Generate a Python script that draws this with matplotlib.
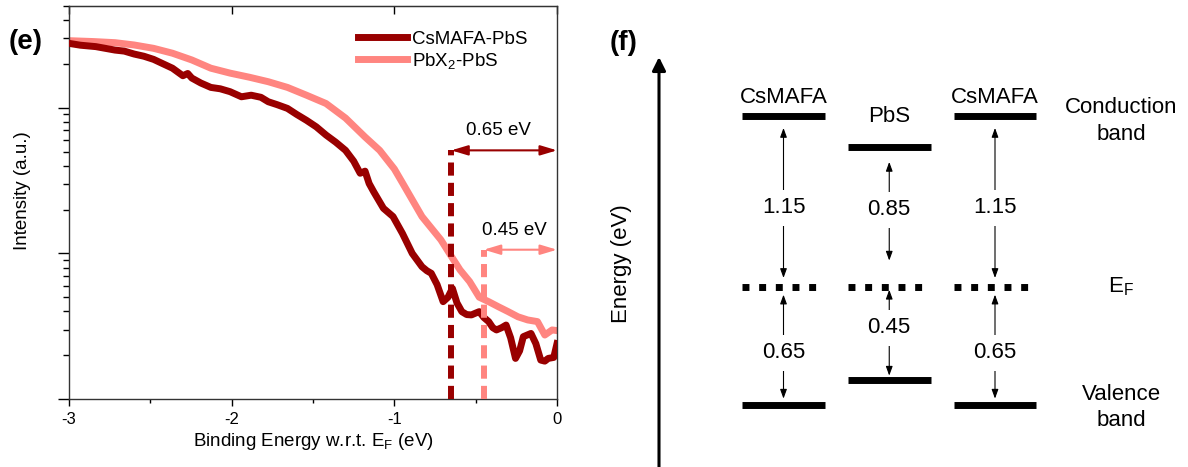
import matplotlib.pyplot as plt
import numpy as np

plt.rcParams['font.family'] = ['Liberation Sans', 'DejaVu Sans']
plt.rcParams['mathtext.default'] = 'regular'
plt.rcParams['axes.unicode_minus'] = False

# UPS valence band spectra (binding energy vs intensity, log scale)
energy_cs = [-3.0, -2.93, -2.835, -2.717, -2.66, -2.60, -2.54, -2.48, -2.42, -2.364,
             -2.30, -2.27, -2.245, -2.19, -2.128, -2.07, -2.01, -1.94, -1.88, -1.82,
             -1.775, -1.72, -1.657, -1.60, -1.54, -1.48, -1.42, -1.36, -1.30, -1.25,
             -1.21, -1.18, -1.155, -1.127, -1.067, -1.008, -0.95, -0.89, -0.83, -0.80,
             -0.773, -0.737, -0.70, -0.67, -0.643, -0.615, -0.585, -0.555, -0.526, -0.50,
             -0.478, -0.45, -0.42, -0.395, -0.372, -0.34, -0.313, -0.285, -0.255, -0.23,
             -0.207, -0.16, -0.13, -0.10, -0.075, -0.054, -0.02, 0.0]
intensity_cs = [277, 269, 263, 249, 245, 234, 226, 215, 200, 187,
                166, 172, 160, 148, 138, 135, 129, 119, 122, 118,
                110, 105, 99, 90, 82, 74, 65, 58, 51, 43,
                35.5, 36.7, 30.2, 26.5, 20.4, 17.9, 13.7, 10.0, 8.1, 7.6,
                7.3, 6.1, 4.66, 5.0, 5.75, 4.57, 3.98, 3.8, 3.78, 3.89,
                3.98, 3.63, 3.4, 3.09, 2.98, 3.09, 3.22, 2.63, 1.9, 2.14,
                2.68, 2.82, 2.4, 1.85, 1.82, 1.9, 1.93, 2.4]

energy_pbx = [-3.0, -2.85, -2.717, -2.60, -2.48, -2.364, -2.245, -2.128, -2.01, -1.89,
              -1.775, -1.657, -1.54, -1.42, -1.30, -1.18, -1.09, -1.0, -0.95, -0.83, -0.714,
              -0.655, -0.596, -0.537, -0.478, -0.42, -0.36, -0.30, -0.24, -0.18, -0.12,
              -0.075, -0.03, 0.0]
intensity_pbx = [289, 285, 280, 270, 256, 237, 213, 187, 173, 162,
                 151, 138, 122, 107, 85, 63, 51, 38, 30.5, 17.9, 12.4,
                 9.75, 7.7, 6.4, 5.0, 4.66, 4.3, 3.98, 3.67, 3.49, 3.4,
                 2.75, 2.98, 2.95]

vbm_onset = [-0.65, -0.45]
onset_height = [51, 10.6]
onset_text = ['0.65 eV', '0.45 eV']

# band diagram (eV relative to E_F)
materials = ['CsMAFA', 'PbS', 'CsMAFA']
cb_gap = [1.15, 0.85, 1.15]
vb_gap = [0.65, 0.45, 0.65]

dark = '#990000'
light = '#ff8580'

fig = plt.figure(figsize=(11.88, 4.67), dpi=100)

# ---------------- (e) ----------------
ax = fig.add_axes([69/1188, 1-399/467, 488/1188, 393/467])
ax.plot(energy_cs, intensity_cs, color=dark, lw=5, label='CsMAFA-PbS', zorder=3)
ax.plot(energy_pbx, intensity_pbx, color=light, lw=5, label='PbX$_2$-PbS', zorder=2)
ax.set_yscale('log')
ax.set_xlim(-3, 0)
ax.set_ylim(1, 500)

for x0, h, txt, c in zip(vbm_onset, onset_height, onset_text, [dark, light]):
    ax.plot([x0, x0], [1, h], color=c, lw=4.3, dashes=(2.2, 1.2), solid_capstyle='butt', zorder=4)
    ax.annotate('', xy=(0, h), xytext=(x0, h),
                arrowprops=dict(arrowstyle='<|-|>,head_length=1.0,head_width=0.3',
                                color=c, lw=1.5, shrinkA=0, shrinkB=0), zorder=5)
    ax.annotate(txt, xy=(x0 / 2 - 0.035, h), xytext=(0, 8), textcoords='offset points',
                ha='center', va='bottom', fontsize=13.5)

ax.set_xticks([-3, -2, -1, 0])
ax.set_xticks([-2.5, -1.5, -0.5], minor=True)
ax.set_yticklabels([], minor=True)
ax.set_yticklabels([])
ax.tick_params(axis='x', which='major', direction='out', length=5, width=1, labelsize=12, pad=4)
ax.tick_params(axis='x', which='minor', direction='out', length=3, width=1)
ax.tick_params(axis='y', which='major', direction='out', length=8, width=1)
ax.tick_params(axis='y', which='minor', direction='out', length=4, width=1)
top = ax.secondary_xaxis('top')
top.set_xticks([-3, -2, -1, 0])
top.tick_params(direction='in', length=6, width=1, labeltop=False)
top.spines['top'].set_color('#333333')
for s in ax.spines.values():
    s.set_color('#333333')
    s.set_linewidth(1)
ax.set_xlabel('Binding Energy w.r.t. E$_F$ (eV)', fontsize=13.5, labelpad=3)
ax.set_ylabel('Intensity (a.u.)', fontsize=13.5)
ax.yaxis.set_label_coords((31-69)/488, 0.53)
ax.legend(loc='upper left', bbox_to_anchor=(0.592, 0.937), frameon=False, fontsize=13.5,
          handlelength=2.6, handletextpad=0.3, labelspacing=0.15, borderpad=0, borderaxespad=0)

# ---------------- (f) ----------------
ax2 = fig.add_axes([594/1188, 0, 594/1188, 1])
ax2.set_xlim((594-783.5)/105.75, (1188-783.5)/105.75)
ax2.set_ylim(-180/156, 287/156)
ax2.axis('off')


def level(v):
    # schematic (compressed) height of a level, not to scale
    return np.sign(v) * np.abs(v) ** 0.65


cols = np.arange(len(materials))
half = 0.392
name_pad = [3, 11, 3]
cb_shrink = [(8.5, 6.5), (11, 19), (8.5, 6.5)]
vb_shrink = [(5.5, 4.5), (2, 3), (5.5, 4.5)]
cb_txt_shift = [-0.04, 0.045, -0.04]
vb_txt_shift = [-0.045, 0.035, -0.045]
for i, (m, cb, vb) in enumerate(zip(materials, cb_gap, vb_gap)):
    ycb, yvb = level(cb), -level(vb)
    ax2.plot([i - half, i + half], [ycb, ycb], color='black', lw=5, solid_capstyle='butt')
    ax2.plot([i - half, i + half], [yvb, yvb], color='black', lw=5, solid_capstyle='butt')
    ax2.plot([i - half, i + half], [0, 0], color='black', lw=5, dashes=(1, 1.4),
             dash_capstyle='butt')
    ax2.annotate(m, xy=(i, ycb), xytext=(0, name_pad[i] + 3), textcoords='offset points',
                 ha='center', va='bottom', fontsize=16)
    ax2.annotate('', xy=(i, 0), xytext=(i, ycb),
                 arrowprops=dict(arrowstyle='<|-|>,head_length=0.55,head_width=0.2', color='black',
                                 lw=0.8, shrinkA=cb_shrink[i][0], shrinkB=cb_shrink[i][1]))
    ax2.annotate('', xy=(i, yvb), xytext=(i, 0),
                 arrowprops=dict(arrowstyle='<|-|>,head_length=0.55,head_width=0.2', color='black',
                                 lw=0.8, shrinkA=vb_shrink[i][0], shrinkB=vb_shrink[i][1]))
    ax2.text(i, ycb / 2 + cb_txt_shift[i], f'{cb:.2f}', ha='center', va='center', fontsize=16,
             bbox=dict(boxstyle='square,pad=0.35', fc='white', ec='none'))
    ax2.text(i, yvb / 2 + vb_txt_shift[i], f'{vb:.2f}', ha='center', va='center', fontsize=16,
             bbox=dict(boxstyle='square,pad=0.35', fc='white', ec='none'))

xl = (1121-783.5)/105.75
ax2.text(xl, level(cb_gap[0]) - 0.03, 'Conduction\nband', ha='center', va='center', fontsize=16,
         linespacing=1.35)
ax2.text(xl, 0, 'E$_F$', ha='center', va='center', fontsize=16)
ax2.text(xl, -level(vb_gap[0]) - 0.016, 'Valence\nband', ha='center', va='center', fontsize=16,
         linespacing=1.35)

xe = (659-783.5)/105.75
ax2.annotate('', xy=(xe, (287-57)/156), xytext=(xe, -180/156),
             arrowprops=dict(arrowstyle='-|>,head_length=0.8,head_width=0.4', color='black',
                             lw=2.2, shrinkA=0, shrinkB=0))
ax2.text((621-783.5)/105.75, (287-264)/156, 'Energy (eV)', rotation=90, ha='center', va='center',
         fontsize=16)

fig.text(26/1188, 1-42/467, '(e)', fontsize=20, fontweight='bold', ha='center', va='center')
fig.text(624/1188, 1-43/467, '(f)', fontsize=20, fontweight='bold', ha='center', va='center')

fig.savefig('out.png', dpi=100)
